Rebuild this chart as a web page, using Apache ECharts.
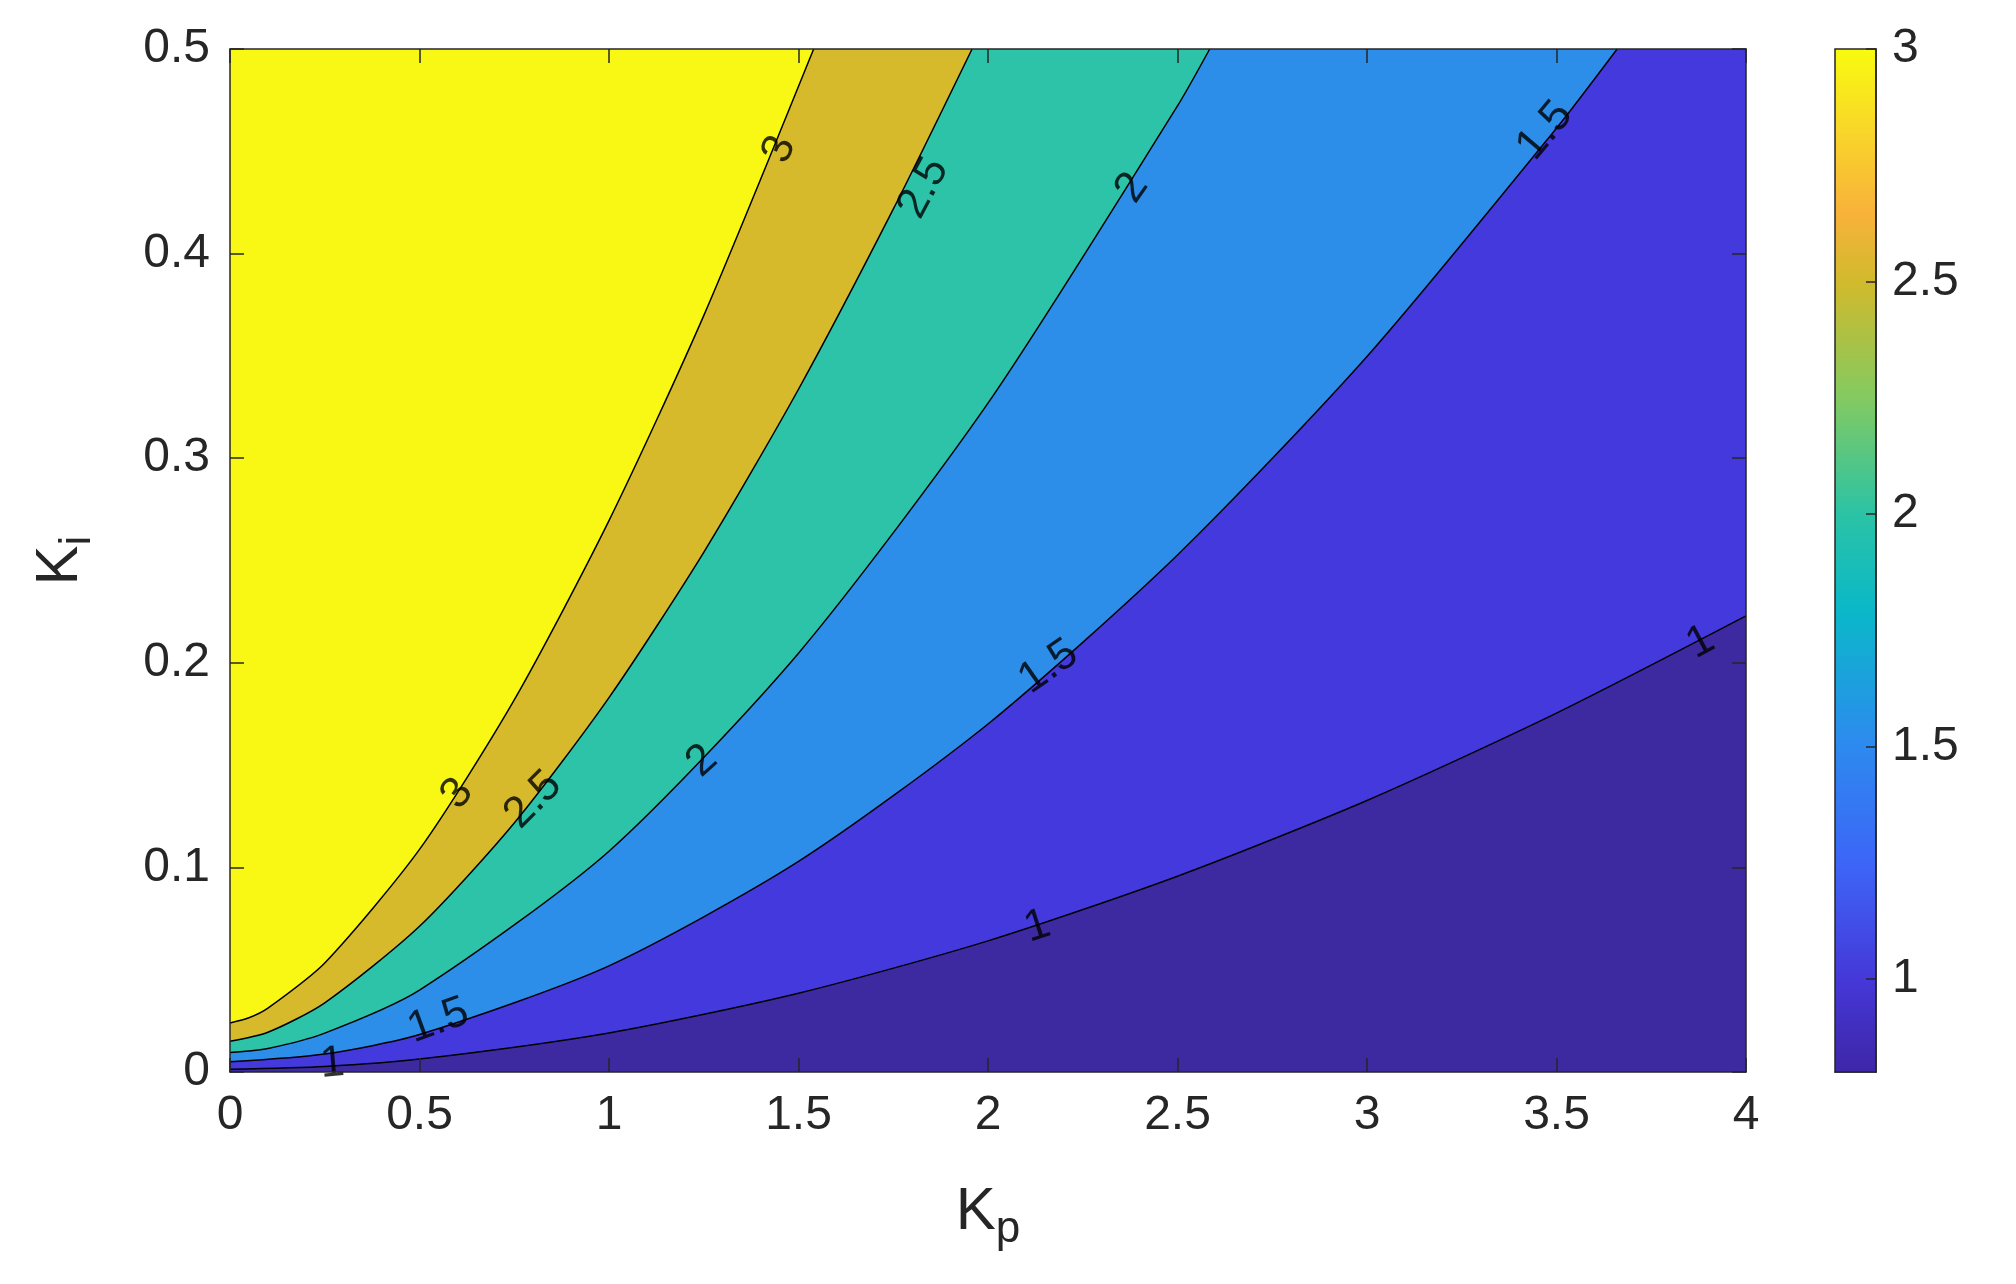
<!DOCTYPE html>
<html>
<head>
<meta charset="utf-8">
<script src="https://cdn.jsdelivr.net/npm/echarts@6/dist/echarts.min.js"></script>
<style>html,body{margin:0;padding:0;background:#fff}#main{width:2016px;height:1284px}</style>
</head>
<body>
<div id="main"></div>
<script>
// contour lines: [Kp, Ki]
var level1 = [[0,0.0013],[0.25,0.0027],[0.5,0.0063],[1,0.0191],[1.5,0.0385],[2,0.0641],[2.5,0.0957],[3,0.1327],[3.5,0.1754],[4,0.2229]];
var level15 = [[0,0.005],[0.25,0.0088],[0.5,0.0183],[1,0.0519],[1.5,0.1029],[2,0.1701],[2.5,0.2527],[3,0.3497],[3.5,0.4613],[3.66,0.5]];
var level2 = [[0,0.0095],[0.1,0.0115],[0.25,0.019],[0.5,0.040],[1,0.1079],[1.5,0.2047],[2,0.3269],[2.5,0.4722],[2.585,0.5]];
var level25 = [[0,0.015],[0.1,0.0194],[0.25,0.0338],[0.5,0.0712],[0.75,0.1217],[1,0.183],[1.25,0.254],[1.5,0.3337],[1.75,0.4217],[1.958,0.5]];
var level3 = [[0,0.024],[0.05,0.0265],[0.1,0.0312],[0.25,0.0533],[0.5,0.1088],[0.75,0.1819],[1,0.2695],[1.25,0.3697],[1.54,0.5]];

// contour labels: [Kp, Ki, rotation, text]
var contourLabels = [
  [0.60,0.136,50,'3'],[1.45,0.451,68,'3'],
  [0.80,0.133,45,'2.5'],[1.83,0.432,62,'2.5'],
  [1.245,0.152,42,'2'],[2.38,0.432,55,'2'],
  [0.55,0.025,20,'1.5'],[2.16,0.198,35,'1.5'],[3.47,0.46,50,'1.5'],
  [0.27,0.004,5,'1'],[2.13,0.071,18,'1'],[3.88,0.21,28,'1']
];

var colorBelow1 = '#3d2aa0';
var bandColors = ['#4439dd', '#2d8eea', '#2cc3a9', '#d7b92c', '#f8f814'];
var cbarTicks = [1, 1.5, 2, 2.5, 3];

var font = 'Liberation Sans';
var txt = '#262626';

var chart = echarts.init(document.getElementById('main'));

var levels = [level1, level15, level2, level25, level3];
var series = levels.map(function (d, i) {
    return {
        type: 'line', data: d, smooth: 0.25, symbol: 'none',
        xAxisIndex: 0, yAxisIndex: 0,
        lineStyle: {color: '#000', width: 1.5},
        areaStyle: {color: bandColors[i], opacity: 1, origin: 'end'},
        z: 2 + i
    };
});
series.push({
    type: 'scatter', xAxisIndex: 0, yAxisIndex: 0, symbolSize: 0, z: 10,
    data: contourLabels.map(function (l) {
        return {value: [l[0], l[1]], label: {show: true, formatter: l[3], rotate: l[2],
            position: 'inside', fontSize: 44, color: '#000', fontFamily: font}};
    })
});
// colorbar
series.push({type: 'bar', xAxisIndex: 2, yAxisIndex: 2, stack: 'cb', data: [0.8],
    itemStyle: {color: 'transparent'}, barWidth: '100%', silent: true});
series.push({type: 'bar', xAxisIndex: 2, yAxisIndex: 2, stack: 'cb', data: [2.2], barWidth: '100%',
    itemStyle: {color: new echarts.graphic.LinearGradient(0, 1, 0, 0, [
        {offset: 0, color: '#3e26a8'}, {offset: 0.09, color: '#4538d8'},
        {offset: 0.2, color: '#3d64f7'}, {offset: 0.32, color: '#2d8aef'},
        {offset: 0.45, color: '#0ab8c9'}, {offset: 0.545, color: '#2ac3a5'},
        {offset: 0.66, color: '#84ca60'}, {offset: 0.77, color: '#d0ba2c'},
        {offset: 0.84, color: '#f8b23a'}, {offset: 0.92, color: '#f8d62a'},
        {offset: 1, color: '#f9fb0e'}])}});

var tickStyle = {show: true, inside: true, length: 14, lineStyle: {color: txt, width: 1.5}};
var frame = {show: true, onZero: false, lineStyle: {color: txt, width: 1.5}};
var lab = {fontSize: 48, color: txt, fontFamily: font, margin: 20};

var option = {
    animation: false,
    grid: [
        {left: 230, top: 49, width: 1516, height: 1023, show: true, backgroundColor: colorBelow1, borderWidth: 0},
        {left: 1835, top: 49, width: 41, height: 1023, show: false}
    ],
    xAxis: [
        {type: 'value', gridIndex: 0, min: 0, max: 4, interval: 0.5, axisLine: frame, axisTick: tickStyle, z: 20,
         splitLine: {show: false}, axisLabel: lab,
         name: '{a|K}{b|p}', nameLocation: 'middle', nameGap: 100,
         nameTextStyle: {rich: {a: {fontSize: 60, color: txt, fontFamily: font},
             b: {fontSize: 44, color: txt, fontFamily: font, verticalAlign: 'bottom', padding: [36, 0, 0, 0]}}}},
        {type: 'value', gridIndex: 0, min: 0, max: 4, interval: 0.5, position: 'top', axisLine: frame, z: 20,
         axisTick: tickStyle, axisLabel: {show: false}, splitLine: {show: false}},
        {type: 'category', gridIndex: 1, data: [''], axisLine: frame, axisTick: {show: false}, axisLabel: {show: false}}
    ],
    yAxis: [
        {type: 'value', gridIndex: 0, min: 0, max: 0.5, interval: 0.1, axisLine: frame, axisTick: tickStyle, z: 20,
         splitLine: {show: false}, axisLabel: lab,
         name: '{a|K}{b|i}', nameLocation: 'middle', nameGap: 130,
         nameTextStyle: {rich: {a: {fontSize: 60, color: txt, fontFamily: font},
             b: {fontSize: 44, color: txt, fontFamily: font, padding: [36, 0, 0, 0]}}}},
        {type: 'value', gridIndex: 0, min: 0, max: 0.5, interval: 0.1, position: 'right', axisLine: frame, z: 20,
         axisTick: tickStyle, axisLabel: {show: false}, splitLine: {show: false}},
        {type: 'value', gridIndex: 1, min: 0.8, max: 3, position: 'right', axisLine: frame, z: 20,
         splitLine: {show: false},
         axisTick: {show: true, inside: true, length: 10, customValues: cbarTicks, lineStyle: {color: txt, width: 1.5}},
         axisLabel: {fontSize: 48, color: txt, fontFamily: font, margin: 16, customValues: cbarTicks}}
    ],
    series: series
};
chart.setOption(option);
chart.setOption({graphic: [{type: 'rect', shape: {x: 1835, y: 49, width: 41, height: 1023},
    style: {fill: 'none', stroke: txt, lineWidth: 1.5}, z: 100}]});
</script>
</body>
</html>
